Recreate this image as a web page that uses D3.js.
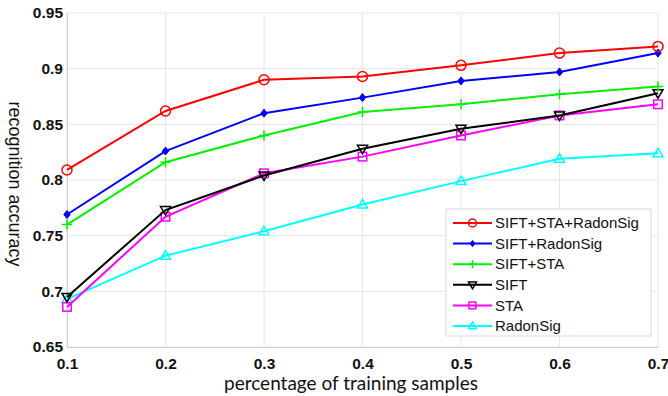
<!DOCTYPE html>
<html>
<head>
<meta charset="utf-8">
<script src="https://cdn.jsdelivr.net/npm/d3@7"></script>
<style>
  body { margin: 0; background: #fff; }
  svg text { font-family: "Liberation Sans", Arial, sans-serif; }
</style>
</head>
<body>
<div id="chart"></div>
<script>
// 数据
const xValues = [0.1, 0.2, 0.3, 0.4, 0.5, 0.6, 0.7];
const xTicks = [0.1, 0.2, 0.3, 0.4, 0.5, 0.6, 0.7];
const yTicks = [0.65, 0.7, 0.75, 0.8, 0.85, 0.9, 0.95];

const seriesNames = ['SIFT+STA+RadonSig', 'SIFT+RadonSig', 'SIFT+STA', 'SIFT', 'STA', 'RadonSig'];
const siftStaRadon = [0.809, 0.862, 0.890, 0.893, 0.903, 0.914, 0.920];
const siftRadon    = [0.769, 0.826, 0.860, 0.874, 0.889, 0.897, 0.914];
const siftSta      = [0.760, 0.816, 0.840, 0.861, 0.868, 0.877, 0.884];
const sift         = [0.695, 0.773, 0.804, 0.828, 0.846, 0.858, 0.878];
const sta          = [0.686, 0.767, 0.806, 0.821, 0.840, 0.858, 0.868];
const radonSig     = [0.693, 0.732, 0.754, 0.778, 0.799, 0.819, 0.824];

const seriesValues = [siftStaRadon, siftRadon, siftSta, sift, sta, radonSig];
const seriesColors = ['#ff0000', '#0000ff', '#00f000', '#000000', '#ff00ff', '#00ffff'];
const seriesMarkers = ['circle', 'diamond', 'plus', 'down', 'square', 'up'];

const width = 668, height = 396;
const margin = { top: 13, right: 10, bottom: 49, left: 67 };

const svg = d3.select('#chart').append('svg')
    .attr('width', width)
    .attr('height', height);

const x = d3.scaleLinear().domain([0.1, 0.7]).range([margin.left, width - margin.right]);
const y = d3.scaleLinear().domain([0.65, 0.95]).range([height - margin.bottom, margin.top]);

// 网格
const grid = svg.append('g');
grid.selectAll('.vg').data(xTicks).enter().append('line')
    .attr('x1', d => x(d)).attr('x2', d => x(d))
    .attr('y1', y(0.65)).attr('y2', y(0.95))
    .attr('stroke', '#e6e6e6').attr('stroke-width', 1);
grid.selectAll('.hg').data(yTicks).enter().append('line')
    .attr('x1', x(0.1)).attr('x2', x(0.7))
    .attr('y1', d => y(d)).attr('y2', d => y(d))
    .attr('stroke', '#e6e6e6').attr('stroke-width', 1);

// 坐标轴
const xAxis = svg.append('g')
    .attr('transform', `translate(0,${y(0.65)})`)
    .call(d3.axisBottom(x).tickValues(xTicks).tickSize(0).tickPadding(8).tickFormat(d3.format('.1f')));
const yAxis = svg.append('g')
    .attr('transform', `translate(${x(0.1)},0)`)
    .call(d3.axisLeft(y).tickValues(yTicks).tickSize(0).tickPadding(4).tickFormat(d => String(+d.toFixed(2))));

[xAxis, yAxis].forEach(a => {
    a.select('.domain').attr('stroke', '#d0d0d0');
    a.selectAll('text')
        .attr('fill', '#111')
        .attr('font-size', '15.5px')
        .attr('font-weight', 'bold')
        .style('font-family', '"Liberation Sans", Arial, sans-serif');
});
xAxis.selectAll('text').attr('dy', '0.9em');

// 折线
const line = d3.line().x((d, i) => x(xValues[i])).y(d => y(d));

function drawMarker(g, type, color, cx, cy, s) {
    if (type === 'circle') {
        g.append('circle').attr('cx', cx).attr('cy', cy).attr('r', s)
            .attr('fill', 'none').attr('stroke', color).attr('stroke-width', 1.5);
    } else if (type === 'diamond') {
        g.append('path')
            .attr('d', `M${cx},${cy - s}L${cx + s * 0.8},${cy}L${cx},${cy + s}L${cx - s * 0.8},${cy}Z`)
            .attr('fill', color).attr('stroke', color).attr('stroke-width', 1);
    } else if (type === 'plus') {
        g.append('path')
            .attr('d', `M${cx - s},${cy}H${cx + s}M${cx},${cy - s}V${cy + s}`)
            .attr('stroke', color).attr('stroke-width', 1.5);
    } else if (type === 'down') {
        g.append('path')
            .attr('d', `M${cx - s},${cy - s * 0.7}L${cx + s},${cy - s * 0.7}L${cx},${cy + s}Z`)
            .attr('fill', 'none').attr('stroke', color).attr('stroke-width', 1.5);
    } else if (type === 'up') {
        g.append('path')
            .attr('d', `M${cx - s},${cy + s * 0.7}L${cx + s},${cy + s * 0.7}L${cx},${cy - s}Z`)
            .attr('fill', 'none').attr('stroke', color).attr('stroke-width', 1.5);
    } else if (type === 'square') {
        g.append('rect').attr('x', cx - s * 0.85).attr('y', cy - s * 0.85)
            .attr('width', s * 1.7).attr('height', s * 1.7)
            .attr('fill', 'none').attr('stroke', color).attr('stroke-width', 1.5);
    }
}

// 从下往上绘制，使红线在最上层
for (let k = seriesValues.length - 1; k >= 0; k--) {
    const g = svg.append('g');
    g.append('path')
        .datum(seriesValues[k])
        .attr('d', line)
        .attr('fill', 'none')
        .attr('stroke', seriesColors[k])
        .attr('stroke-width', 2);
    seriesValues[k].forEach((v, i) => {
        drawMarker(g, seriesMarkers[k], seriesColors[k], x(xValues[i]), y(v),
            seriesMarkers[k] === 'diamond' ? 4 : 5);
    });
}

// 图例
const lx = 446, ly = 209, lw = 205, lh = 127;
const legend = svg.append('g');
legend.append('rect')
    .attr('x', lx).attr('y', ly).attr('width', lw).attr('height', lh)
    .attr('fill', '#fff').attr('stroke', '#d8d8d8').attr('stroke-width', 1);
seriesNames.forEach((name, k) => {
    const cy = ly + 14 + k * 20.6;
    legend.append('line')
        .attr('x1', lx + 7).attr('x2', lx + 46)
        .attr('y1', cy).attr('y2', cy)
        .attr('stroke', seriesColors[k]).attr('stroke-width', 2);
    drawMarker(legend, seriesMarkers[k], seriesColors[k], lx + 26.5, cy, seriesMarkers[k] === 'diamond' ? 3 : 4);
    legend.append('text')
        .attr('x', lx + 49).attr('y', cy)
        .attr('dy', '0.35em')
        .attr('font-size', '15px')
        .attr('fill', '#111')
        .text(name);
});

// 轴标题
svg.append('text')
    .attr('transform', `translate(15,${184}) rotate(90)`)
    .attr('text-anchor', 'middle')
    .attr('dy', '0.35em')
    .attr('font-size', '18px')
    .attr('fill', '#111')
    .text('recognition accuracy');

svg.append('text')
    .attr('x', 351).attr('y', 390)
    .attr('text-anchor', 'middle')
    .attr('font-size', '19px')
    .attr('fill', '#111')
    .style('font-family', 'Lato, "Open Sans", sans-serif')
    .text('percentage of training samples');
</script>
</body>
</html>
